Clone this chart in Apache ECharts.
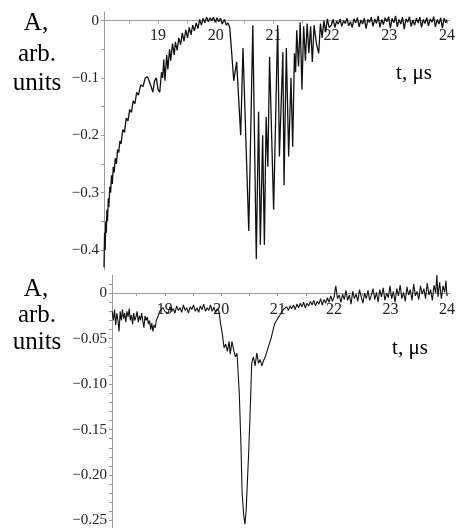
<!DOCTYPE html>
<html>
<head>
<meta charset="utf-8">
<script src="https://cdn.jsdelivr.net/npm/echarts@6/dist/echarts.min.js"></script>
<style>
  html, body { margin: 0; padding: 0; background: #fff; }
  #chart { width: 458px; height: 528px; }
</style>
</head>
<body>
<div id="chart"></div>
<script>
// upper trace: time (µs) and amplitude
const tTop = [
  18.065, 18.075, 18.085, 18.095, 18.105, 18.115, 18.125, 18.14, 18.15, 18.165, 18.18, 18.195,
  18.21, 18.225, 18.24, 18.26, 18.28, 18.30, 18.32, 18.34, 18.36, 18.39, 18.42, 18.45,
  18.48, 18.51, 18.54, 18.57, 18.60, 18.63, 18.66, 18.70, 18.74, 18.78, 18.82, 18.85,
  18.88, 18.91, 18.94, 18.97, 19.00, 19.03, 19.06, 19.08, 19.10, 19.12, 19.15, 19.17,
  19.20, 19.22, 19.25, 19.28, 19.30, 19.33, 19.36, 19.39, 19.42, 19.45, 19.48, 19.51,
  19.54, 19.57, 19.60, 19.63, 19.66, 19.69, 19.72, 19.75, 19.78, 19.81, 19.84, 19.87,
  19.90, 19.93, 19.96, 19.99, 20.02, 20.05, 20.08, 20.11, 20.15, 20.18, 20.21, 20.24,
  20.27, 20.31, 20.36, 20.43, 20.47, 20.57, 20.64, 20.70, 20.74, 20.77, 20.81, 20.84,
  20.87, 20.90, 20.93, 21.00, 21.07, 21.10, 21.16, 21.18, 21.22, 21.26, 21.30, 21.33,
  21.36, 21.38, 21.40, 21.43, 21.46, 21.49, 21.52, 21.55, 21.58, 21.61, 21.64, 21.67,
  21.70, 21.74, 21.78, 21.81, 21.84, 21.87, 21.90, 21.93, 21.96,
  22.00, 22.03, 22.06, 22.09, 22.12, 22.15, 22.18, 22.21, 22.24, 22.27, 22.30, 22.33,
  22.36, 22.39, 22.42, 22.45, 22.48, 22.51, 22.54, 22.57, 22.60, 22.63, 22.66, 22.69,
  22.72, 22.75, 22.78, 22.81, 22.84, 22.87, 22.90, 22.93, 22.96, 22.99, 23.02, 23.05,
  23.08, 23.11, 23.14, 23.17, 23.20, 23.23, 23.26, 23.29, 23.32, 23.35, 23.38, 23.41,
  23.44, 23.47, 23.50, 23.53, 23.56, 23.59, 23.62, 23.65, 23.68, 23.71, 23.74, 23.77,
  23.80, 23.83, 23.86, 23.89, 23.92, 23.95, 23.98, 24.00
];
const aTop = [
  -0.43, -0.37, -0.40, -0.35, -0.37, -0.33, -0.35, -0.31, -0.325, -0.29, -0.30, -0.27,
  -0.285, -0.255, -0.265, -0.24, -0.25, -0.225, -0.23, -0.21, -0.215, -0.19, -0.195, -0.17,
  -0.175, -0.155, -0.16, -0.14, -0.145, -0.125, -0.13, -0.112, -0.115, -0.10, -0.098, -0.10,
  -0.115, -0.125, -0.105, -0.10, -0.12, -0.125, -0.09, -0.10, -0.068, -0.105, -0.06, -0.085,
  -0.05, -0.07, -0.04, -0.06, -0.037, -0.052, -0.03, -0.042, -0.022, -0.036, -0.016, -0.03,
  -0.012, -0.025, -0.008, -0.018, -0.004, -0.014, 0.002, -0.008, 0.004, -0.004, 0.006, -0.002,
  0.005, 0.0, 0.006, -0.003, 0.005, -0.002, 0.004, -0.006, 0.002, -0.008, -0.004, -0.012,
  -0.05, -0.105, -0.072, -0.20, -0.048, -0.367, -0.008, -0.416, -0.159, -0.391, -0.20, -0.391,
  -0.168, -0.255, -0.063, -0.33, -0.008, -0.237, -0.055, -0.287, -0.048, -0.237, -0.10, -0.22,
  -0.057, -0.09, -0.017, -0.08, -0.003, -0.12, -0.01, -0.07, -0.005, -0.057, -0.01, -0.072,
  -0.008, -0.04, -0.057, -0.005, -0.03, 0.0, -0.02, 0.003, -0.012,
  -0.008, 0.002, -0.012, -0.001, -0.006, 0.003, -0.01, 0.0, -0.005, 0.004, -0.009, -0.002,
  -0.012, 0.003, -0.004, 0.005, -0.011, 0.001, -0.006, 0.004, -0.014, 0.002, -0.003, 0.006,
  -0.01, 0.003, -0.005, 0.008, -0.012, 0.002, -0.007, 0.005, -0.002, 0.007, -0.013, 0.004,
  -0.004, 0.008, -0.011, 0.002, -0.006, 0.006, -0.015, 0.003, -0.003, 0.007, -0.01, 0.001,
  -0.008, 0.004, -0.004, 0.006, -0.012, 0.002, -0.005, 0.005, -0.009, 0.003, -0.003, 0.007,
  -0.011, 0.002, -0.006, 0.005, -0.013, 0.004, -0.004, 0.002
];

// lower trace
const tBot = [
  18.07, 18.09, 18.11, 18.13, 18.15, 18.17, 18.19, 18.21, 18.23, 18.25, 18.27, 18.29,
  18.31, 18.33, 18.35, 18.37, 18.39, 18.41, 18.43, 18.45, 18.47, 18.49, 18.51, 18.53,
  18.55, 18.57, 18.59, 18.61, 18.63, 18.65, 18.67, 18.69, 18.71, 18.73, 18.75, 18.77,
  18.79, 18.81, 18.83, 18.85, 18.87, 18.89, 18.91, 18.94, 18.97, 19.00, 19.03, 19.06,
  19.09, 19.12, 19.15, 19.18, 19.21, 19.24, 19.27, 19.30, 19.33, 19.36, 19.39, 19.42,
  19.45, 19.48, 19.51, 19.54, 19.57, 19.60, 19.63, 19.66, 19.69, 19.72, 19.75, 19.78,
  19.81, 19.84, 19.87, 19.90, 19.93, 19.96, 19.99, 20.02, 20.05, 20.08, 20.11, 20.14,
  20.16, 20.19, 20.22, 20.25, 20.28, 20.32, 20.35, 20.37, 20.40, 20.42, 20.44, 20.46,
  20.49, 20.52, 20.54, 20.57, 20.60, 20.63, 20.66, 20.69, 20.72, 20.75, 20.78, 20.81,
  20.84, 20.87, 20.89, 20.92, 20.95, 20.98, 21.01, 21.04, 21.07, 21.10, 21.13, 21.16,
  21.19, 21.22, 21.25, 21.28, 21.31, 21.34, 21.37, 21.40, 21.43, 21.46, 21.49, 21.52,
  21.55, 21.58, 21.61, 21.64, 21.67, 21.70, 21.73, 21.76, 21.79, 21.82, 21.85, 21.88,
  21.91, 21.94, 21.97, 22.00, 22.03, 22.06, 22.09, 22.12, 22.15, 22.18, 22.21, 22.24,
  22.27, 22.30, 22.33, 22.36, 22.39, 22.42, 22.45, 22.48, 22.51, 22.54, 22.57, 22.60,
  22.63, 22.66, 22.69, 22.72, 22.75, 22.78, 22.81, 22.84, 22.87, 22.90, 22.93, 22.96,
  22.99, 23.02, 23.05, 23.08, 23.11, 23.14, 23.17, 23.20, 23.23, 23.26, 23.29, 23.32,
  23.35, 23.38, 23.41, 23.44, 23.47, 23.50, 23.53, 23.56, 23.59, 23.62, 23.65, 23.68,
  23.71, 23.74, 23.77, 23.80, 23.82, 23.84, 23.87, 23.90, 23.93, 23.96, 23.98, 24.00
];
const aBot = [
  -0.02, -0.03, -0.018, -0.035, -0.022, -0.03, -0.042, -0.02, -0.03, -0.018, -0.028, -0.022,
  -0.032, -0.02, -0.026, -0.017, -0.03, -0.024, -0.034, -0.022, -0.03, -0.026, -0.02, -0.032,
  -0.025, -0.03, -0.022, -0.03, -0.038, -0.025, -0.03, -0.026, -0.034, -0.03, -0.04, -0.033,
  -0.042, -0.035, -0.038, -0.03, -0.032, -0.024, -0.02, -0.022, -0.016, -0.02, -0.018, -0.022,
  -0.015, -0.02, -0.017, -0.022, -0.014, -0.019, -0.016, -0.021, -0.013, -0.019, -0.016, -0.022,
  -0.015, -0.018, -0.013, -0.02, -0.016, -0.021, -0.014, -0.018, -0.012, -0.02, -0.016, -0.019,
  -0.013, -0.02, -0.015, -0.021, -0.017, -0.02, -0.034, -0.045, -0.06, -0.056, -0.064, -0.053,
  -0.067, -0.053, -0.062, -0.07, -0.066, -0.11, -0.168, -0.22, -0.245, -0.254, -0.241, -0.213,
  -0.17, -0.117, -0.077, -0.07, -0.08, -0.066, -0.077, -0.073, -0.08, -0.074, -0.07, -0.064,
  -0.058, -0.052, -0.048, -0.04, -0.033, -0.03, -0.027, -0.024, -0.022, -0.018, -0.02, -0.015,
  -0.019, -0.014, -0.017, -0.013, -0.018, -0.012, -0.016, -0.011, -0.015, -0.01, -0.016, -0.011,
  -0.014, -0.009, -0.013, -0.008, -0.014, -0.009, -0.012, -0.006, -0.013, -0.007, -0.011, -0.005,
  -0.01, -0.003, -0.009, -0.004, 0.008, -0.006, -0.002, -0.01, -0.001, -0.007, 0.003, -0.008,
  -0.002, -0.012, 0.002, -0.006, -0.001, -0.009, 0.004, -0.004, -0.011, 0.0, -0.006, 0.003,
  -0.008, -0.002, 0.005, -0.007, 0.001, -0.01, 0.004, -0.004, 0.006, -0.008, 0.0, -0.005,
  0.008, -0.006, 0.002, -0.01, 0.005, -0.003, 0.009, -0.006, 0.001, -0.009, 0.007, -0.002,
  0.004, -0.008, 0.01, -0.003, 0.002, -0.007, 0.008, -0.001, 0.005, -0.006, 0.011, -0.002,
  0.004, -0.008, 0.009, 0.0, 0.02, -0.004, 0.012, -0.006, 0.008, 0.001, 0.014, -0.003
];

const xTicks = [18.5, 19, 19.5, 20, 20.5, 21, 21.5, 22, 22.5, 23, 23.5, 24];
const xLabels = [19, 20, 21, 22, 23, 24];
const yTopLabels = [0, -0.1, -0.2, -0.3, -0.4];
const yTopTicks = [0, -0.05, -0.1, -0.15, -0.2, -0.25, -0.3, -0.35, -0.4];
const yBotLabels = [0, -0.05, -0.1, -0.15, -0.2, -0.25];
const yBotTicks = [0.01, 0, -0.01, -0.02, -0.03, -0.04, -0.05, -0.06, -0.07, -0.08, -0.09, -0.1,
  -0.11, -0.12, -0.13, -0.14, -0.15, -0.16, -0.17, -0.18, -0.19, -0.2, -0.21, -0.22, -0.23, -0.24, -0.25];

const serif = "'Liberation Serif', 'DejaVu Serif', serif";
const axisGrey = "#9a9a9a";

const fmt = (digits) => (v) => (Math.abs(v) < 1e-9 ? "0" : "\u2212" + Math.abs(v).toFixed(digits));

// the time axis sits on the zero line, so it is pulled up into the grid with a negative offset
const makeX = (idx, offset, margin) => ({
  type: "value",
  gridIndex: idx,
  min: 18.065,
  max: 24.05,
  position: "bottom",
  offset: offset,
  axisLine: { onZero: false, lineStyle: { color: axisGrey, width: 1 } },
  axisTick: { customValues: xTicks, length: 3, lineStyle: { color: axisGrey } },
  axisLabel: {
    customValues: xLabels,
    margin: margin,
    fontFamily: serif,
    fontSize: 16,
    color: "#222",
  },
  splitLine: { show: false },
});

const makeY = (idx, min, max, labels, ticks, digits) => ({
  type: "value",
  gridIndex: idx,
  min: min,
  max: max,
  axisLine: { show: true, lineStyle: { color: axisGrey, width: 1 } },
  axisTick: { customValues: ticks, length: 3, lineStyle: { color: axisGrey } },
  axisLabel: {
    customValues: labels,
    formatter: fmt(digits),
    margin: 5,
    fontFamily: serif,
    fontSize: 15,
    color: "#222",
  },
  splitLine: { show: false },
});

const txt = (text, x, y, size) => ({
  type: "text",
  x: x,
  y: y,
  style: {
    text: text,
    font: size + "px " + serif,
    fill: "#000",
    textAlign: "center",
    textVerticalAlign: "middle",
  },
});

const chart = echarts.init(document.getElementById("chart"));
chart.setOption({
  animation: false,
  backgroundColor: "#fff",
  grid: [
    { left: 104, top: 12, width: 347, height: 258 },
    { left: 112, top: 275, width: 341, height: 253 },
  ],
  xAxis: [makeX(0, -249.4, 7), makeX(1, -234.8, 9)],
  yAxis: [
    makeY(0, -0.435, 0.015, yTopLabels, yTopTicks, 1),
    makeY(1, -0.258, 0.02, yBotLabels, yBotTicks, 2),
  ],
  series: [
    {
      type: "line",
      xAxisIndex: 0,
      yAxisIndex: 0,
      data: tTop.map((t, i) => [t, aTop[i]]),
      showSymbol: false,
      lineStyle: { color: "#111", width: 1.3 },
    },
    {
      type: "line",
      xAxisIndex: 1,
      yAxisIndex: 1,
      data: tBot.map((t, i) => [t, aBot[i]]),
      showSymbol: false,
      lineStyle: { color: "#111", width: 1.1 },
    },
  ],
  graphic: [
    txt("A,", 36, 23, 25),
    txt("arb.", 37, 54, 25),
    txt("units", 37, 83, 25),
    txt("t, \u03bcs", 414, 73, 21),
    txt("A,", 36, 289, 25),
    txt("arb.", 37, 315, 25),
    txt("units", 37, 342, 25),
    txt("t, \u03bcs", 410, 348, 21),
  ],
});
</script>
</body>
</html>
